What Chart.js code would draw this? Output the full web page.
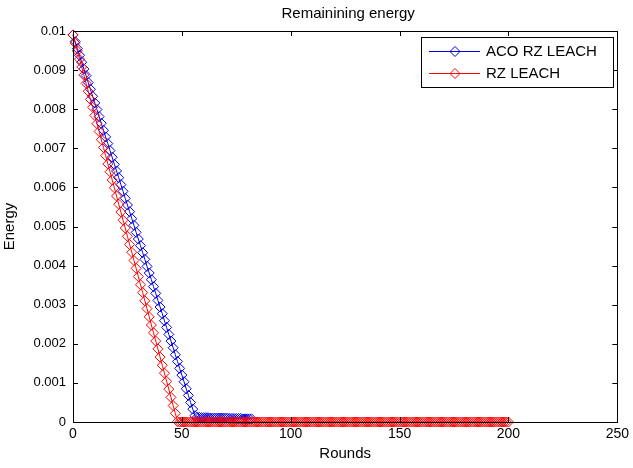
<!DOCTYPE html>
<html><head><meta charset="utf-8">
<script src="https://cdn.jsdelivr.net/npm/chart.js@4"></script>
<style>html,body{margin:0;padding:0;background:#fff}#wrap{width:633px;height:468px}</style>
</head><body><div id="wrap"><canvas id="c" width="633" height="468"></canvas></div>
<script>
const chartTitle = 'Remainining energy';
const xAxisTitle = 'Rounds';
const yAxisTitle = 'Energy';
const seriesNames = ['ACO RZ LEACH', 'RZ LEACH'];
const xTickLabels = ['0','50','100','150','200','250'];
const yTickLabels = ['0','0.001','0.002','0.003','0.004','0.005','0.006','0.007','0.008','0.009','0.01'];

const rounds = [
  0,1,2,3,4,5,6,7,8,9,10,11,12,13,14,15,16,17,18,19,
  20,21,22,23,24,25,26,27,28,29,30,31,32,33,34,35,36,37,38,39,
  40,41,42,43,44,45,46,47,48,49,50,51,52,53,54,55,56,57,58,59,
  60,61,62,63,64,65,66,67,68,69,70,71,72,73,74,75,76,77,78,79,
  80,81,82,83,84,85,86,87,88,89,90,91,92,93,94,95,96,97,98,99,
  100,101,102,103,104,105,106,107,108,109,110,111,112,113,114,115,116,117,118,119,
  120,121,122,123,124,125,126,127,128,129,130,131,132,133,134,135,136,137,138,139,
  140,141,142,143,144,145,146,147,148,149,150,151,152,153,154,155,156,157,158,159,
  160,161,162,163,164,165,166,167,168,169,170,171,172,173,174,175,176,177,178,179,
  180,181,182,183,184,185,186,187,188,189,190,191,192,193,194,195,196,197,198,199,
  200
];

const acoRzLeach = [
  0.0099,0.00973,0.00955,0.00938,0.00920,0.00903,0.00886,0.00868,0.00851,0.00833,
  0.00816,0.00799,0.00781,0.00764,0.00746,0.00729,0.00712,0.00694,0.00677,0.00659,
  0.00642,0.00625,0.00607,0.00590,0.00572,0.00555,0.00538,0.00520,0.00503,0.00485,
  0.00468,0.00451,0.00433,0.00416,0.00398,0.00381,0.00364,0.00346,0.00329,0.00311,
  0.00294,0.00277,0.00259,0.00242,0.00224,0.00207,0.00190,0.00172,0.00155,0.00137,
  0.00120,0.00103,0.00085,0.00068,0.00050,0.00033,0.00016,
  0.00012,0.00012,0.00011,0.00011,0.00011,0.00011,0.0001,0.0001,0.0001,0.0001,
  0.0001,0.0001,0.0001,0.0001,0.0001,0.00009,0.00009,0.00009,0.00009,0.00009,
  0.00009,0.00008,0.00008,0.00008,0.00008,0.00008
];

const rzLeach = [
  0.0099,0.00969,0.00949,0.00928,0.00908,0.00887,0.00866,0.00846,0.00825,0.00805,
  0.00784,0.00763,0.00743,0.00722,0.00702,0.00681,0.00660,0.00640,0.00619,0.00599,
  0.00578,0.00557,0.00537,0.00516,0.00496,0.00475,0.00454,0.00434,0.00413,0.00393,
  0.00372,0.00351,0.00331,0.00310,0.00290,0.00269,0.00248,0.00228,0.00207,0.00187,
  0.00166,0.00145,0.00125,0.00104,0.00084,0.00063,0.00042,0.00022,0.00001,
  0,0,0,0,0,0,0,0,0,0,0,0,0,0,0,0,0,0,0,
  0,0,0,0,0,0,0,0,0,0,0,0,0,0,0,0,0,0,0,
  0,0,0,0,0,0,0,0,0,0,0,0,0,0,0,0,0,0,0,
  0,0,0,0,0,0,0,0,0,0,0,0,0,0,0,0,0,0,0,
  0,0,0,0,0,0,0,0,0,0,0,0,0,0,0,0,0,0,0,
  0,0,0,0,0,0,0,0,0,0,0,0,0,0,0,0,0,0,0,
  0,0,0,0,0,0,0,0,0,0,0,0,0,0,0,0,0,0,0,
  0,0,0,0,0,0,0,0,0,0,0,0,0,0,0,0,0,0,0
];

const seriesColors = ['#0000e0', '#ff0000'];
const FONT = '"Liberation Sans", Arial, Helvetica, sans-serif';
Chart.defaults.font.family = FONT;
Chart.defaults.color = '#000';

function toPoints(values) {
  return values.map((v, i) => ({ x: rounds[i], y: v }));
}

function drawDiamond(ctx, x, y, r) {
  ctx.beginPath();
  ctx.moveTo(x, y - r); ctx.lineTo(x + r, y); ctx.lineTo(x, y + r); ctx.lineTo(x - r, y);
  ctx.closePath(); ctx.stroke();
}

const matlabFrame = {
  id: 'matlabFrame',
  afterDraw(chart) {
    const ctx = chart.ctx;
    const a = chart.chartArea;
    const xs = chart.scales.x, ys = chart.scales.y;
    ctx.save();
    ctx.strokeStyle = '#000'; ctx.lineWidth = 1;
    ctx.strokeRect(Math.round(a.left) + 0.5, Math.round(a.top) + 0.5, Math.round(a.right - a.left), Math.round(a.bottom - a.top));
    const tl = 5;
    ctx.beginPath();
    xs.ticks.forEach(t => {
      const px = Math.round(xs.getPixelForValue(t.value)) + 0.5;
      ctx.moveTo(px, a.bottom); ctx.lineTo(px, a.bottom - tl);
      ctx.moveTo(px, a.top); ctx.lineTo(px, a.top + tl);
    });
    ys.ticks.forEach(t => {
      const py = Math.round(ys.getPixelForValue(t.value)) + 0.5;
      ctx.moveTo(a.left, py); ctx.lineTo(a.left + tl, py);
      ctx.moveTo(a.right, py); ctx.lineTo(a.right - tl, py);
    });
    ctx.stroke();
    // title
    ctx.fillStyle = '#000';
    ctx.font = '15px ' + FONT;
    ctx.textAlign = 'center'; ctx.textBaseline = 'alphabetic';
    ctx.fillText(chartTitle, (a.left + a.right) / 2 + 3, 18);
    // legend
    const lx = 421, ly = 37, lw = 192, lh = 50;
    ctx.fillStyle = '#fff';
    ctx.fillRect(lx, ly, lw, lh);
    ctx.strokeStyle = '#000';
    ctx.strokeRect(lx + 0.5, ly + 0.5, lw, lh);
    const rowsY = [51, 73];
    seriesNames.forEach((name, i) => {
      const y = rowsY[i] + 0.5;
      ctx.strokeStyle = seriesColors[i]; ctx.lineWidth = 1;
      ctx.beginPath(); ctx.moveTo(429, y); ctx.lineTo(480, y); ctx.stroke();
      drawDiamond(ctx, 455, y, 5);
      ctx.fillStyle = '#000';
      ctx.font = '15px ' + FONT;
      ctx.textAlign = 'left'; ctx.textBaseline = 'middle';
      ctx.fillText(name, 486, rowsY[i] + 1);
    });
    ctx.restore();
  }
};

const dsBase = {
  borderWidth: 1,
  pointStyle: 'rectRot',
  pointRadius: 5,
  pointBorderWidth: 1,
  pointBackgroundColor: 'rgba(0,0,0,0)',
  backgroundColor: 'rgba(0,0,0,0)',
  tension: 0,
  clip: false,
  fill: false
};

new Chart(document.getElementById('c'), {
  type: 'line',
  data: {
    datasets: [
      Object.assign({}, dsBase, { label: seriesNames[0], data: toPoints(acoRzLeach), borderColor: seriesColors[0], pointBorderColor: seriesColors[0], order: 1 }),
      Object.assign({}, dsBase, { label: seriesNames[1], data: toPoints(rzLeach), borderColor: seriesColors[1], pointBorderColor: seriesColors[1], order: 0 })
    ]
  },
  options: {
    responsive: false,
    animation: false,
    devicePixelRatio: 1,
    layout: { padding: { top: 31, right: 12, left: 0, bottom: 0 } },
    plugins: { legend: { display: false }, title: { display: false }, tooltip: { enabled: false } },
    scales: {
      x: {
        type: 'linear', min: 0, max: 250,
        grid: { display: false, drawTicks: false },
        border: { display: false },
        ticks: { stepSize: 50, autoSkip: false, maxRotation: 0, padding: 4, font: { size: 14 }, color: '#000',
          callback: (v, i) => xTickLabels[i] },
        title: { display: true, text: xAxisTitle, font: { size: 15 }, color: '#000', padding: { top: 0, bottom: 5 } },
        afterFit: s => { s.height = 46; }
      },
      y: {
        type: 'linear', min: 0, max: 0.01,
        grid: { display: false, drawTicks: false },
        border: { display: false },
        ticks: { stepSize: 0.001, padding: 7, font: { size: 13 }, color: '#000',
          callback: (v, i) => yTickLabels[i] },
        title: { display: true, text: yAxisTitle, font: { size: 15 }, color: '#000', padding: { top: 1, bottom: 0 } },
        afterFit: s => { s.width = 73; }
      }
    }
  },
  plugins: [matlabFrame]
});
</script>
</body></html>
